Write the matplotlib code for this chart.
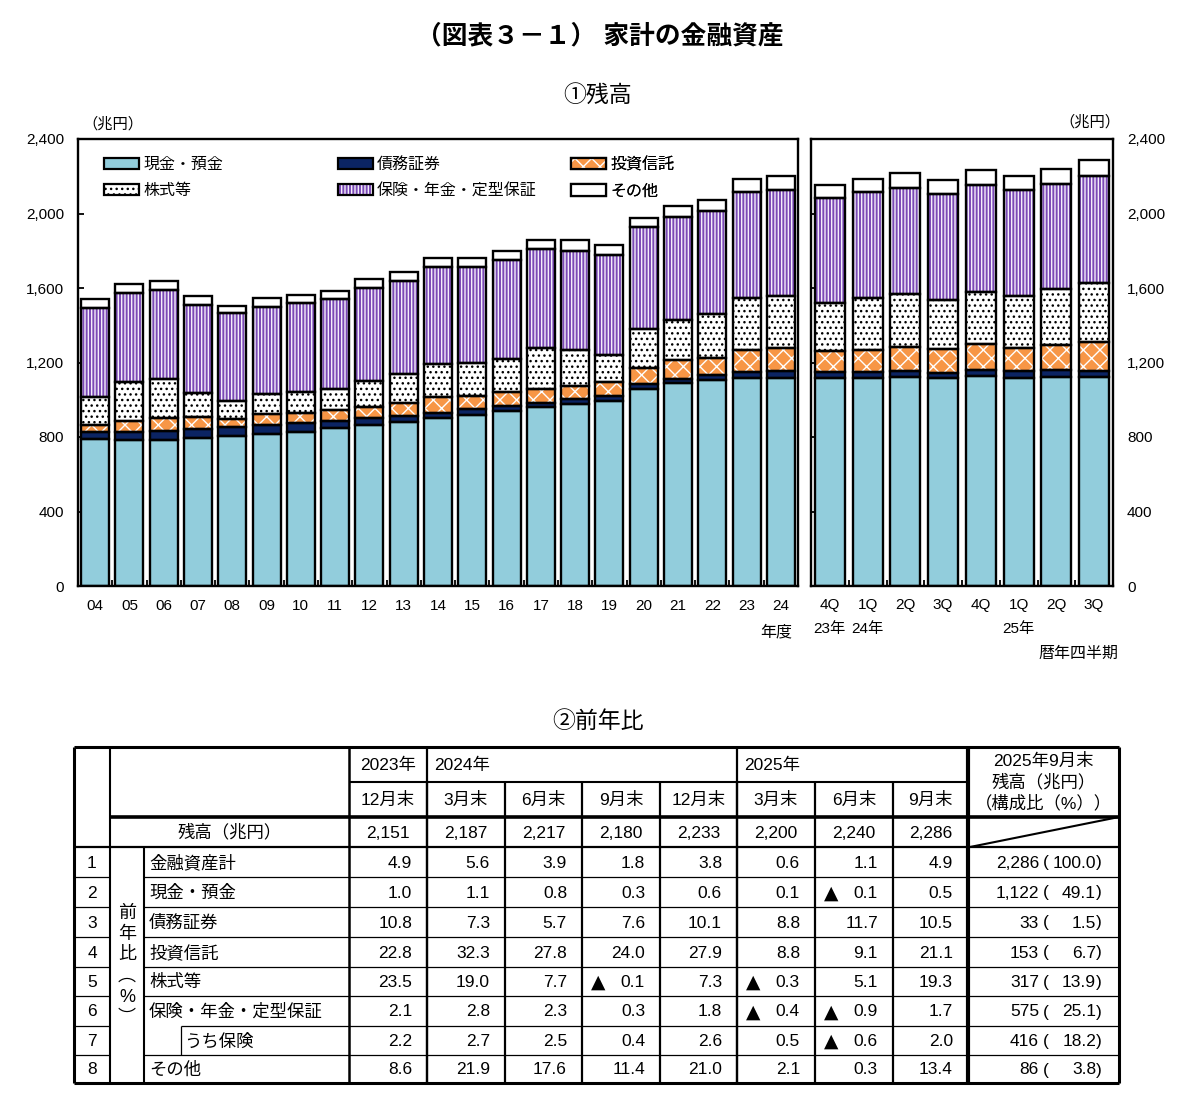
import matplotlib
matplotlib.use('Agg')
import matplotlib.pyplot as plt
import numpy as np
from matplotlib.patches import Patch
from matplotlib.legend_handler import HandlerTuple

plt.rcParams['font.family'] = ['Liberation Sans', 'Noto Sans CJK JP', 'DejaVu Sans']
plt.rcParams['hatch.linewidth'] = 1.0

# ---------------- data ----------------
series_names = ['現金・預金', '債務証券', '投資信託', '株式等', '保険・年金・定型保証', 'その他']

fy_labels = ['04', '05', '06', '07', '08', '09', '10', '11', '12', '13', '14',
             '15', '16', '17', '18', '19', '20', '21', '22', '23', '24']
cash_fy = [789, 784, 784, 793, 805, 816, 829, 846, 864, 882, 900, 918, 940, 959, 977, 995, 1056, 1088, 1105, 1117, 1118]
debt_fy = [40, 45, 50, 48, 47, 48, 44, 42, 36, 33, 31, 30, 26, 25, 26, 25, 26, 26, 28, 32, 34]
inv_fy = [38, 57, 66, 65, 46, 58, 58, 57, 63, 69, 86, 74, 76, 74, 71, 74, 87, 99, 93, 120, 128]
stock_fy = [146, 207, 210, 128, 97, 107, 109, 115, 140, 152, 173, 174, 179, 222, 193, 146, 209, 215, 234, 277, 279]
ins_fy = [478, 478, 479, 475, 469, 471, 478, 479, 499, 502, 521, 519, 529, 528, 533, 539, 548, 555, 555, 569, 565]
other_fy = [50, 50, 50, 46, 41, 46, 44, 45, 46, 46, 52, 48, 49, 50, 58, 50, 52, 57, 57, 72, 76]

q_labels = ['4Q\n23年', '1Q\n24年', '2Q', '3Q', '4Q', '1Q\n25年', '2Q', '3Q']
cash_q = [1118, 1117, 1120, 1116, 1125, 1118, 1121, 1122]
debt_q = [31, 32, 32, 30, 35, 34, 39, 33]
inv_q = [111, 120, 129, 126, 140, 128, 135, 153]
stock_q = [257, 277, 286, 266, 277, 279, 297, 317]
ins_q = [564, 569, 568, 566, 575, 565, 567, 575]
other_q = [70, 72, 82, 76, 81, 76, 81, 86]

y_ticks = [0, 400, 800, 1200, 1600, 2000, 2400]

# table data
tbl_years = ['2023年', '2024年', '2025年']
tbl_year_span = [1, 4, 3]
tbl_months = ['12月末', '3月末', '6月末', '9月末', '12月末', '3月末', '6月末', '9月末']
tbl_balance = [2151, 2187, 2217, 2180, 2233, 2200, 2240, 2286]
row_labels = ['金融資産計', '現金・預金', '債務証券', '投資信託', '株式等', '保険・年金・定型保証', 'うち保険', 'その他']
yoy = [
    [4.9, 5.6, 3.9, 1.8, 3.8, 0.6, 1.1, 4.9],
    [1.0, 1.1, 0.8, 0.3, 0.6, 0.1, -0.1, 0.5],
    [10.8, 7.3, 5.7, 7.6, 10.1, 8.8, 11.7, 10.5],
    [22.8, 32.3, 27.8, 24.0, 27.9, 8.8, 9.1, 21.1],
    [23.5, 19.0, 7.7, -0.1, 7.3, -0.3, 5.1, 19.3],
    [2.1, 2.8, 2.3, 0.3, 1.8, -0.4, -0.9, 1.7],
    [2.2, 2.7, 2.5, 0.4, 2.6, 0.5, -0.6, 2.0],
    [8.6, 21.9, 17.6, 11.4, 21.0, 2.1, 0.3, 13.4],
]
last_amt = [2286, 1122, 33, 153, 317, 575, 416, 86]
last_pct = [100.0, 49.1, 1.5, 6.7, 13.9, 25.1, 18.2, 3.8]

# ---------------- styles ----------------
styles = [
    dict(fc='#92CDDC', hatch=None, hc='#92CDDC'),
    dict(fc='#0B2463', hatch=None, hc='#0B2463'),
    dict(fc='#F79646', hatch='xx', hc='white'),
    dict(fc='white', hatch='...', hc='black'),
    dict(fc='#7B4AB6', hatch='|||||', hc='#F4EEFA'),
    dict(fc='white', hatch=None, hc='white'),
]

W, H = 1200, 1109
fig = plt.figure(figsize=(W / 100, H / 100), dpi=100)


def fa(x0, y0, x1, y1):
    return [x0 / W, 1 - y1 / H, (x1 - x0) / W, (y1 - y0) / H]


axL = fig.add_axes(fa(78, 139, 798, 586))
axR = fig.add_axes(fa(811, 139, 1113, 586))


def draw_stack(ax, series, width):
    n = len(series[0])
    x = np.arange(n)
    bottom = np.zeros(n)
    for vals, st in zip(series, styles):
        v = np.array(vals, float)
        ax.bar(x, v, bottom=bottom, width=width, color=st['fc'], hatch=st['hatch'],
               edgecolor=st['hc'], linewidth=0, zorder=2)
        ax.bar(x, v, bottom=bottom, width=width, facecolor='none', edgecolor='black',
               linewidth=1.7, zorder=3)
        bottom += v
    ax.set_xlim(-0.5, n - 0.5)
    ax.set_ylim(0, 2400)
    ax.set_xticks(x)
    ax.set_xticks(np.arange(0.5, n - 1, 1), minor=True)
    ax.set_yticks(y_ticks)
    ax.set_yticklabels([f'{t:,}' for t in y_ticks])
    ax.tick_params(axis='x', which='major', length=0, pad=9, labelsize=11)
    ax.tick_params(axis='x', which='minor', direction='in', length=4, width=1.3)
    ax.tick_params(axis='y', direction='in', length=4, width=1.3, labelsize=11, pad=10)
    for s in ax.spines.values():
        s.set_linewidth(1.7)


draw_stack(axL, [cash_fy, debt_fy, inv_fy, stock_fy, ins_fy, other_fy], 0.82)
axL.set_xticklabels(fy_labels)

draw_stack(axR, [cash_q, debt_q, inv_q, stock_q, ins_q, other_q], 0.8)
axR.set_xticklabels(q_labels)
for lbl in axR.get_xticklabels():
    lbl.set_linespacing(1.85)
axR.tick_params(axis='y', left=True, right=False, labelleft=False, labelright=True)

# legend: three columns
handles = []
for st in styles:
    h1 = Patch(facecolor=st['fc'], hatch=st['hatch'], edgecolor=st['hc'], linewidth=0)
    h2 = Patch(facecolor='none', edgecolor='black', linewidth=1.6)
    handles.append((h1, h2))
col_x = [104, 338, 571]
for c in range(3):
    idx = [c, c + 3]
    leg = axL.legend([handles[i] for i in idx], [series_names[i] for i in idx],
                     handler_map={tuple: HandlerTuple(ndivide=1, pad=0)},
                     loc='upper left', bbox_to_anchor=(col_x[c] / W, 1 - 157 / H),
                     bbox_transform=fig.transFigure, frameon=False, fontsize=11.5,
                     handlelength=2.2, handleheight=0.75, handletextpad=0.25,
                     labelspacing=0.7, borderpad=0, borderaxespad=0)
    axL.add_artist(leg)

# ---------------- overlay for titles & table ----------------
ov = fig.add_axes([0, 0, 1, 1], zorder=10)
ov.set_xlim(0, W)
ov.set_ylim(H, 0)
ov.axis('off')
ov.patch.set_alpha(0)

ov.text(600, 36, '（図表３－１） 家計の金融資産', ha='center', va='center', fontsize=18.5, fontweight='bold')
ov.text(598, 95, '①残高', ha='center', va='center', fontsize=16.5)
ov.text(113, 124, '（兆円）', ha='center', va='center', fontsize=11)
ov.text(1090, 122, '（兆円）', ha='center', va='center', fontsize=11)
ov.text(792, 632, '年度', ha='right', va='center', fontsize=11.5)
ov.text(1118, 653, '暦年四半期', ha='right', va='center', fontsize=11.5)
ov.text(598, 721, '②前年比', ha='center', va='center', fontsize=16.5)

# table geometry (pixels)
FS = 12.5
xe = [74, 110, 144, 349, 427, 505, 582, 660, 737, 815, 893, 968, 1119]
y_top, y_h1, y_h2, y_bal = 747, 782, 817, 847
row_edges = [847, 877, 907, 937, 967, 996, 1026, 1055, 1083]
data_x = xe[3:12]


def hl(y, x0, x1, lw=1.0, c='black'):
    ov.plot([x0, x1], [y, y], color=c, lw=lw, solid_capstyle='butt')


def vl(x, y0, y1, lw=1.0, c='black'):
    ov.plot([x, x], [y0, y1], color=c, lw=lw, solid_capstyle='butt')


# outer box
hl(y_top, xe[0], xe[-1], 2.2)
hl(row_edges[-1], xe[0], xe[-1], 2.2)
vl(xe[0], y_top, row_edges[-1], 2.2)
vl(xe[-1], y_top, row_edges[-1], 2.2)
# verticals
vl(xe[1], y_top, row_edges[-1], 1.5)
vl(xe[2], y_bal, row_edges[-1], 1.5)
vl(xe[3], y_top, row_edges[-1], 1.8)
pos = 0
for span in tbl_year_span:
    pos += span
    if pos < 8:
        vl(data_x[pos], y_top, row_edges[-1], 1.6)
for i in range(1, 8):
    vl(data_x[i], y_h1, row_edges[-1], 1.6)
vl(xe[11], y_top, row_edges[-1], 3.0)
# horizontals
hl(y_h1, xe[3], xe[11], 1.5)
hl(y_h2, xe[1], xe[-1], 2.6)
hl(y_bal, xe[0], xe[-1], 1.6)
for k, y in enumerate(row_edges[1:-1]):
    hl(y, xe[0], xe[1], 0.9)
    start = 181 if k == 5 else xe[2]
    hl(y, start, xe[-1], 0.9)
vl(181, row_edges[6], row_edges[7], 0.9)
ov.plot([xe[11] + 2, xe[-1]], [y_bal, y_h2], color='black', lw=1.5)

# header texts
pos = 0
for yr, span in zip(tbl_years, tbl_year_span):
    x0, x1 = data_x[pos], data_x[pos + span]
    if span == 1:
        ov.text((x0 + x1) / 2, 765, yr, ha='center', va='center', fontsize=FS)
    else:
        ov.text(x0 + 7, 765, yr, ha='left', va='center', fontsize=FS)
    pos += span
for i, m in enumerate(tbl_months):
    ov.text((data_x[i] + data_x[i + 1]) / 2, 800, m, ha='center', va='center', fontsize=FS)
cx_last = (xe[11] + xe[-1]) / 2
for yy, t in zip([761, 782, 803], ['2025年9月末', '残高（兆円）', '（構成比（%））']):
    ov.text(cx_last, yy, t, ha='center', va='center', fontsize=FS)

ov.text((xe[1] + xe[3]) / 2, 832, '残高（兆円）', ha='center', va='center', fontsize=FS)
for i, b in enumerate(tbl_balance):
    ov.text((data_x[i] + data_x[i + 1]) / 2, 833, f'{b:,}', ha='center', va='center', fontsize=FS)

for ch, yy in zip(['前', '年', '比', '︵', '%', '︶'], [913, 934, 955, 976, 997, 1018]):
    ov.text(127, yy, ch, ha='center', va='center', fontsize=FS + 0.5)

for r in range(8):
    yc = (row_edges[r] + row_edges[r + 1]) / 2 + 1
    ov.text((xe[0] + xe[1]) / 2, yc, str(r + 1), ha='center', va='center', fontsize=FS)
    lx = 184 if r == 6 else 149
    ov.text(lx, yc, row_labels[r], ha='left', va='center', fontsize=FS)
    for i, v in enumerate(yoy[r]):
        ov.text(data_x[i + 1] - 15, yc, f'{abs(v):.1f}', ha='right', va='center', fontsize=FS)
        if v < 0:
            ov.text(data_x[i] + 9, yc, '▲', ha='left', va='center', fontsize=FS + 1,
                    family=['DejaVu Sans'])
    ov.text(1039, yc, f'{last_amt[r]:,}', ha='right', va='center', fontsize=FS)
    ov.text(1043, yc, '(', ha='left', va='center', fontsize=FS)
    ov.text(1096, yc, f'{last_pct[r]:.1f}', ha='right', va='center', fontsize=FS)
    ov.text(1096, yc, ')', ha='left', va='center', fontsize=FS)

fig.savefig('out.png', dpi=100)
